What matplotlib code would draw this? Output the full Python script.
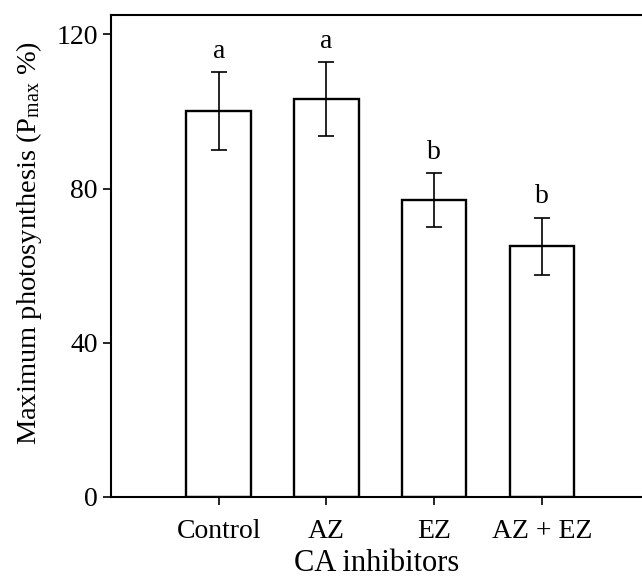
import numpy as np
import matplotlib
matplotlib.use("Agg")
import matplotlib.pyplot as plt

plt.rcParams["font.family"] = ["Liberation Serif", "DejaVu Serif"]
plt.rcParams["mathtext.fontset"] = "custom"
plt.rcParams["mathtext.rm"] = "Liberation Serif"
plt.rcParams["mathtext.it"] = "Liberation Serif:italic"

# data
treatments = ["Control", "AZ", "EZ", "AZ + EZ"]
pmax = [100, 103.2, 77, 65]
sd = [10.1, 9.5, 6.9, 7.4]
letters = ["a", "a", "b", "b"]

x = np.arange(len(treatments))

fig = plt.figure(figsize=(6.42, 5.86), dpi=100)
ax = fig.add_axes([111 / 642, 1 - 497 / 586, 1 - 111 / 642, (497 - 15) / 586])

ax.bar(x, pmax, width=0.6, color="white", edgecolor="black", linewidth=1.7, zorder=2)
ax.errorbar(x, pmax, yerr=sd, fmt="none", ecolor="black", elinewidth=1.2,
            capsize=6, capthick=1.2, zorder=3)

for xi, m, s, lab in zip(x, pmax, sd, letters):
    ax.text(xi, m + s + 3.8, lab, ha="center", va="baseline", fontsize=20)

ax.set_xlim(-1, 3.93)
ax.set_ylim(0, 125)
ax.set_yticks([0, 40, 80, 120])
ax.set_xticks(x)
ax.set_xticklabels(treatments)
ax.tick_params(axis="both", direction="out", length=5.5, width=1.2, labelsize=20)
ax.tick_params(axis="y", pad=4)
ax.tick_params(axis="x", pad=10)

for sp in ax.spines.values():
    sp.set_linewidth(1.5)
ax.spines["right"].set_visible(False)

ax.set_xlabel("CA inhibitors", fontsize=22, labelpad=4)
ax.set_ylabel(r"Maximum photosynthesis (P$_{\mathrm{max}}$ %)", fontsize=20.5)
ax.yaxis.set_label_coords(-0.127, 0.527)

fig.savefig("out.png", dpi=100)
